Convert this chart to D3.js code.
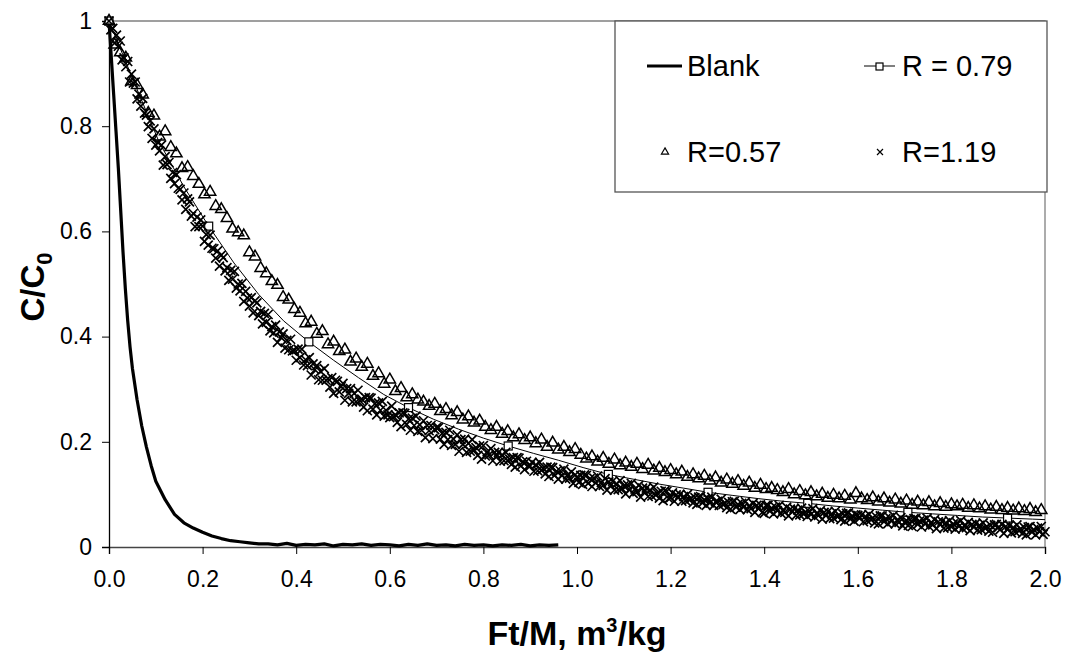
<!DOCTYPE html>
<html>
<head>
<meta charset="utf-8">
<script src="https://cdn.jsdelivr.net/npm/d3@7"></script>
<style>
  body { margin: 0; background: #fff; }
  svg { display: block; font-family: Arial, "Liberation Sans", sans-serif; }
</style>
</head>
<body>
<svg id="chart" width="1068" height="655"></svg>
<script>
// Blank run (no sorbent) - x in m3/kg, C/C0
var blankX = [0, 0.005, 0.01, 0.015, 0.02, 0.025, 0.03, 0.035, 0.04, 0.045, 0.05, 0.06, 0.07, 0.08, 0.09,
  0.1, 0.12, 0.14, 0.16, 0.18, 0.2, 0.22, 0.24, 0.26, 0.28, 0.3, 0.32,
  0.34, 0.36, 0.38, 0.4, 0.42, 0.44, 0.46, 0.48, 0.5, 0.52, 0.54, 0.56, 0.58, 0.6, 0.62, 0.64,
  0.66, 0.68, 0.7, 0.72, 0.74, 0.76, 0.78, 0.8, 0.82, 0.84, 0.86, 0.88, 0.9, 0.92, 0.94, 0.96];
var blankY = [1.0, 0.93, 0.86, 0.79, 0.72, 0.64, 0.56, 0.49, 0.43, 0.38, 0.34, 0.28, 0.23, 0.19, 0.155,
  0.125, 0.09, 0.062, 0.046, 0.036, 0.028, 0.021, 0.016, 0.012, 0.01, 0.008, 0.006,
  0.006, 0.004, 0.007, 0.003, 0.005, 0.004, 0.006, 0.002, 0.005, 0.004, 0.006, 0.003, 0.005, 0.004, 0.002, 0.005,
  0.003, 0.006, 0.003, 0.004, 0.002, 0.005, 0.003, 0.004, 0.002, 0.004, 0.003, 0.005, 0.002, 0.004, 0.003, 0.004];

// R = 0.79 : line, square marker on every 4th point
var r079X = [0, 0.053, 0.107, 0.16, 0.213, 0.267, 0.32, 0.373, 0.427, 0.48, 0.533, 0.587, 0.64, 0.693,
  0.747, 0.8, 0.853, 0.907, 0.96, 1.013, 1.067, 1.12, 1.173, 1.227, 1.28, 1.333, 1.387, 1.44, 1.493,
  1.547, 1.6, 1.653, 1.707, 1.76, 1.813, 1.867, 1.92, 1.973, 2.0];
var r079Y = [1.0, 0.885, 0.77, 0.685, 0.61, 0.54, 0.48, 0.43, 0.39, 0.355, 0.322, 0.29, 0.265, 0.243,
  0.224, 0.207, 0.192, 0.178, 0.165, 0.151, 0.138, 0.129, 0.12, 0.112, 0.104, 0.098, 0.092, 0.087, 0.083,
  0.078, 0.074, 0.07, 0.066, 0.063, 0.06, 0.057, 0.055, 0.053, 0.052];
var r079Marks = [0, 4, 8, 12, 16, 20, 24, 28, 32, 36];

// R = 0.57 : triangles, sampled every 0.012 m3/kg
var r057Step = 0.012;
var r057Y = [1.0, 0.955, 0.94, 0.93, 0.885, 0.878, 0.86, 0.825, 0.82, 0.78, 0.79, 0.76, 0.748, 0.72, 0.722, 0.705, 0.69,
  0.67, 0.675, 0.648, 0.642, 0.625, 0.605, 0.598, 0.592, 0.56, 0.552, 0.53, 0.52, 0.505, 0.498, 0.475, 0.47, 0.452,
  0.445, 0.425, 0.428, 0.405, 0.41, 0.385, 0.39, 0.372, 0.375, 0.352, 0.358, 0.342, 0.348, 0.325, 0.33, 0.31, 0.318,
  0.296, 0.302, 0.284, 0.29, 0.28, 0.276, 0.268, 0.272, 0.258, 0.262, 0.25, 0.256, 0.242, 0.248, 0.236, 0.24, 0.228,
  0.222, 0.228, 0.215, 0.22, 0.208, 0.214, 0.203, 0.208, 0.197, 0.204, 0.19, 0.198, 0.185, 0.19, 0.18, 0.186,
  0.175, 0.168, 0.172, 0.162, 0.169, 0.158, 0.166, 0.155, 0.16, 0.152, 0.158, 0.148, 0.156, 0.145, 0.15, 0.142, 0.146,
  0.138, 0.143, 0.133, 0.138, 0.13, 0.135, 0.126, 0.132, 0.122, 0.128, 0.12, 0.125, 0.116, 0.122, 0.112, 0.118, 0.11,
  0.112, 0.108, 0.104, 0.11, 0.1, 0.106, 0.098, 0.104, 0.096, 0.101, 0.093, 0.099, 0.092, 0.097, 0.09, 0.102, 0.092,
  0.089, 0.094, 0.086, 0.092, 0.084, 0.09, 0.082, 0.088, 0.08, 0.086, 0.079, 0.085, 0.077, 0.083, 0.076, 0.081,
  0.077, 0.08, 0.074, 0.079, 0.073, 0.077, 0.071, 0.076, 0.07, 0.074, 0.069, 0.073, 0.068, 0.072, 0.066, 0.07];

// R = 1.19 : crosses, sampled every 0.004 m3/kg (25 readings per line = 0.1 m3/kg)
var r119Step = 0.004;
var r119Y = [
  1.0, 0.983, 0.986, 0.958, 0.973, 0.952, 0.962, 0.926, 0.93, 0.913, 0.923, 0.884, 0.899, 0.882, 0.884, 0.852, 0.861, 0.838, 0.853, 0.825, 0.821, 0.799, 0.81, 0.777, 0.795,
  0.764, 0.769, 0.753, 0.764, 0.726, 0.742, 0.727, 0.731, 0.701, 0.712, 0.691, 0.708, 0.682, 0.68, 0.66, 0.673, 0.642, 0.662, 0.656, 0.629, 0.634, 0.609, 0.627, 0.609, 0.622,
  0.61, 0.581, 0.594, 0.574, 0.593, 0.568, 0.567, 0.549, 0.563, 0.534, 0.555, 0.55, 0.525, 0.531, 0.507, 0.526, 0.509, 0.524, 0.492, 0.5, 0.487, 0.501, 0.467, 0.486, 0.473,
  0.458, 0.474, 0.445, 0.468, 0.464, 0.44, 0.448, 0.424, 0.444, 0.427, 0.442, 0.411, 0.419, 0.407, 0.422, 0.389, 0.409, 0.398, 0.405, 0.378, 0.393, 0.375, 0.395, 0.373, 0.374,
  0.355, 0.376, 0.36, 0.376, 0.346, 0.356, 0.345, 0.36, 0.327, 0.348, 0.337, 0.345, 0.318, 0.334, 0.317, 0.339, 0.317, 0.32, 0.304, 0.322, 0.292, 0.317, 0.315, 0.295, 0.305,
  0.311, 0.279, 0.301, 0.292, 0.301, 0.276, 0.292, 0.276, 0.298, 0.278, 0.281, 0.266, 0.284, 0.259, 0.284, 0.283, 0.262, 0.272, 0.251, 0.274, 0.26, 0.277, 0.249, 0.26, 0.251,
  0.246, 0.268, 0.248, 0.251, 0.237, 0.255, 0.229, 0.255, 0.254, 0.233, 0.243, 0.222, 0.245, 0.231, 0.249, 0.22, 0.232, 0.222, 0.24, 0.208, 0.231, 0.221, 0.231, 0.206, 0.223,
  0.227, 0.227, 0.205, 0.216, 0.195, 0.218, 0.204, 0.222, 0.193, 0.205, 0.195, 0.213, 0.182, 0.204, 0.195, 0.205, 0.18, 0.197, 0.182, 0.204, 0.184, 0.189, 0.174, 0.192, 0.167,
  0.193, 0.173, 0.181, 0.175, 0.187, 0.164, 0.18, 0.173, 0.18, 0.163, 0.175, 0.164, 0.18, 0.164, 0.167, 0.157, 0.17, 0.152, 0.17, 0.169, 0.154, 0.162, 0.147, 0.163, 0.154,
  0.154, 0.161, 0.144, 0.156, 0.145, 0.161, 0.146, 0.149, 0.139, 0.152, 0.134, 0.152, 0.151, 0.136, 0.144, 0.129, 0.145, 0.136, 0.148, 0.129, 0.137, 0.131, 0.143, 0.121, 0.137,
  0.133, 0.123, 0.136, 0.119, 0.137, 0.136, 0.121, 0.13, 0.115, 0.131, 0.122, 0.135, 0.115, 0.123, 0.117, 0.13, 0.108, 0.124, 0.117, 0.125, 0.108, 0.12, 0.109, 0.126, 0.111,
  0.116, 0.101, 0.118, 0.109, 0.121, 0.102, 0.11, 0.105, 0.117, 0.095, 0.112, 0.105, 0.112, 0.096, 0.108, 0.097, 0.114, 0.099, 0.102, 0.093, 0.106, 0.088, 0.107, 0.106, 0.092,
  0.094, 0.103, 0.087, 0.099, 0.094, 0.1, 0.087, 0.096, 0.088, 0.1, 0.09, 0.092, 0.084, 0.094, 0.081, 0.095, 0.096, 0.084, 0.09, 0.079, 0.092, 0.084, 0.095, 0.079, 0.086,
  0.087, 0.079, 0.091, 0.081, 0.083, 0.075, 0.085, 0.072, 0.086, 0.087, 0.076, 0.081, 0.071, 0.083, 0.076, 0.086, 0.071, 0.078, 0.073, 0.083, 0.066, 0.079, 0.073, 0.08, 0.066,
  0.064, 0.079, 0.079, 0.068, 0.074, 0.063, 0.076, 0.069, 0.079, 0.064, 0.07, 0.066, 0.076, 0.059, 0.072, 0.067, 0.073, 0.06, 0.07, 0.061, 0.074, 0.063, 0.066, 0.058, 0.068,
  0.062, 0.073, 0.057, 0.064, 0.06, 0.069, 0.053, 0.066, 0.06, 0.067, 0.054, 0.063, 0.055, 0.068, 0.058, 0.06, 0.052, 0.063, 0.049, 0.064, 0.065, 0.053, 0.059, 0.049, 0.061,
  0.06, 0.055, 0.061, 0.048, 0.058, 0.05, 0.062, 0.052, 0.055, 0.046, 0.057, 0.044, 0.059, 0.059, 0.048, 0.054, 0.044, 0.056, 0.049, 0.06, 0.044, 0.051, 0.047, 0.056, 0.04,
  0.047, 0.05, 0.041, 0.052, 0.039, 0.054, 0.054, 0.043, 0.049, 0.038, 0.051, 0.044, 0.055, 0.039, 0.046, 0.042, 0.052, 0.035, 0.048, 0.043, 0.049, 0.036, 0.046, 0.037, 0.05,
  0.038, 0.044, 0.034, 0.046, 0.039, 0.05, 0.035, 0.041, 0.037, 0.047, 0.031, 0.043, 0.038, 0.045, 0.032, 0.041, 0.033, 0.046, 0.036, 0.038, 0.03, 0.041, 0.028, 0.042, 0.043,
  0.037, 0.033, 0.043, 0.026, 0.039, 0.034, 0.041, 0.027, 0.037, 0.029, 0.042, 0.031, 0.034, 0.026, 0.037, 0.023, 0.038, 0.039, 0.028, 0.033, 0.023, 0.036, 0.029, 0.039, 0.024,
  0.029];

var xTicks = [0, 0.2, 0.4, 0.6, 0.8, 1.0, 1.2, 1.4, 1.6, 1.8, 2.0];
var yTicks = [0, 0.2, 0.4, 0.6, 0.8, 1];

function drawChart() {
  var svg = d3.select("#chart");
  var plotLeft = 109, plotRight = 1045, plotTop = 21, plotBottom = 547;

  var x = d3.scaleLinear().domain([0, 2]).range([plotLeft, plotRight]);
  var y = d3.scaleLinear().domain([0, 1]).range([plotBottom, plotTop]);

  // plot frame (top + right)
  svg.append("path")
    .attr("d", "M" + plotLeft + "," + plotTop + "H" + plotRight + "V" + plotBottom)
    .attr("fill", "none")
    .attr("stroke", "#808080")
    .attr("stroke-width", 1.3);

  // axes
  var gx = svg.append("g")
    .attr("transform", "translate(0," + plotBottom + ")")
    .call(d3.axisBottom(x).tickValues(xTicks).tickSize(7).tickPadding(17).tickFormat(d3.format(".1f")));
  gx.select(".domain").attr("stroke", "#444").attr("stroke-width", 1.5);
  gx.selectAll("line").attr("stroke", "#000");
  gx.selectAll("text").style("font-size", "23px").style("font-family", "Arial, 'Liberation Sans', sans-serif").attr("fill", "#000");

  var gy = svg.append("g")
    .attr("transform", "translate(" + plotLeft + ",0)")
    .call(d3.axisLeft(y).tickValues(yTicks).tickSize(7).tickPadding(10).tickFormat(function (d) {
      return d === 0 || d === 1 ? d : d3.format(".1f")(d);
    }));
  gy.select(".domain").attr("stroke", "#000").attr("stroke-width", 1.3);
  gy.selectAll("line").attr("stroke", "#000");
  gy.selectAll("text").style("font-size", "23px").style("font-family", "Arial, 'Liberation Sans', sans-serif").attr("fill", "#000");

  // axis titles
  var xt = svg.append("text")
    .attr("x", (plotLeft + plotRight) / 2)
    .attr("y", 645)
    .attr("text-anchor", "middle")
    .style("font-size", "34px")
    .style("font-weight", "bold")
    .text("Ft/M, m");
  xt.append("tspan").attr("dy", -13).style("font-size", "20px").text("3");
  xt.append("tspan").attr("dy", 13).text("/kg");

  var yt = svg.append("text")
    .attr("transform", "translate(44," + 287 + ")rotate(-90)")
    .attr("text-anchor", "middle")
    .style("font-size", "33px")
    .style("font-weight", "bold")
    .text("C/C");
  yt.append("tspan").attr("dy", 8).style("font-size", "22px").text("0");

  // series
  var line = d3.line()
    .x(function (d) { return x(d[0]); })
    .y(function (d) { return y(d[1]); });

  var blankData = blankX.map(function (v, i) { return [v, blankY[i]]; });
  var r079Data = r079X.map(function (v, i) { return [v, r079Y[i]]; });
  var r057Data = r057Y.map(function (v, i) { return [i * r057Step, v]; });
  var r119Data = r119Y.map(function (v, i) { return [i * r119Step, v]; });

  svg.append("path")
    .datum(blankData)
    .attr("d", line)
    .attr("fill", "none")
    .attr("stroke", "#000")
    .attr("stroke-width", 3.2)
    .attr("stroke-linejoin", "round");

  svg.append("path")
    .datum(r079Data)
    .attr("d", line)
    .attr("fill", "none")
    .attr("stroke", "#000")
    .attr("stroke-width", 1);

  svg.append("g")
    .selectAll("rect")
    .data(r079Marks.map(function (i) { return r079Data[i]; }))
    .enter()
    .append("rect")
    .attr("x", function (d) { return x(d[0]) - 4; })
    .attr("y", function (d) { return y(d[1]) - 4; })
    .attr("width", 8)
    .attr("height", 8)
    .attr("fill", "#fff")
    .attr("stroke", "#000")
    .attr("stroke-width", 1.2);

  var tri = d3.symbol().type(d3.symbolTriangle).size(55);
  svg.append("g")
    .selectAll("path")
    .data(r057Data)
    .enter()
    .append("path")
    .attr("d", tri)
    .attr("transform", function (d) { return "translate(" + x(d[0]) + "," + y(d[1]) + ")"; })
    .attr("fill", "none")
    .attr("stroke", "#000")
    .attr("stroke-width", 1.5);

  svg.append("g")
    .selectAll("path")
    .data(r119Data)
    .enter()
    .append("path")
    .attr("d", "M-4.5,-4.5L4.5,4.5M-4.5,4.5L4.5,-4.5")
    .attr("transform", function (d) { return "translate(" + x(d[0]) + "," + y(d[1]) + ")"; })
    .attr("fill", "none")
    .attr("stroke", "#000")
    .attr("stroke-width", 1.7);

  // legend
  var lg = svg.append("g");
  lg.append("rect")
    .attr("x", 615).attr("y", 21).attr("width", 432).attr("height", 171)
    .attr("fill", "#fff").attr("stroke", "#555").attr("stroke-width", 1.3);

  lg.append("line").attr("x1", 647).attr("x2", 682).attr("y1", 66).attr("y2", 66)
    .attr("stroke", "#000").attr("stroke-width", 3);
  lg.append("line").attr("x1", 864).attr("x2", 895).attr("y1", 66).attr("y2", 66)
    .attr("stroke", "#000").attr("stroke-width", 1);
  lg.append("rect").attr("x", 876).attr("y", 63).attr("width", 7).attr("height", 7)
    .attr("fill", "#fff").attr("stroke", "#000").attr("stroke-width", 1.2);
  lg.append("path").attr("d", d3.symbol().type(d3.symbolTriangle).size(22))
    .attr("transform", "translate(665,152)")
    .attr("fill", "none").attr("stroke", "#000").attr("stroke-width", 1.2);
  lg.append("path").attr("d", "M-3,-3L3,3M-3,3L3,-3")
    .attr("transform", "translate(880,152)")
    .attr("fill", "none").attr("stroke", "#000").attr("stroke-width", 1.2);

  var legendText = [["Blank", 687, 76], ["R = 0.79", 902, 76], ["R=0.57", 687, 162], ["R=1.19", 902, 162]];
  lg.selectAll("text.lt")
    .data(legendText)
    .enter()
    .append("text")
    .attr("class", "lt")
    .attr("x", function (d) { return d[1]; })
    .attr("y", function (d) { return d[2]; })
    .style("font-size", "29px")
    .text(function (d) { return d[0]; });
}

drawChart();
</script>
</body>
</html>
